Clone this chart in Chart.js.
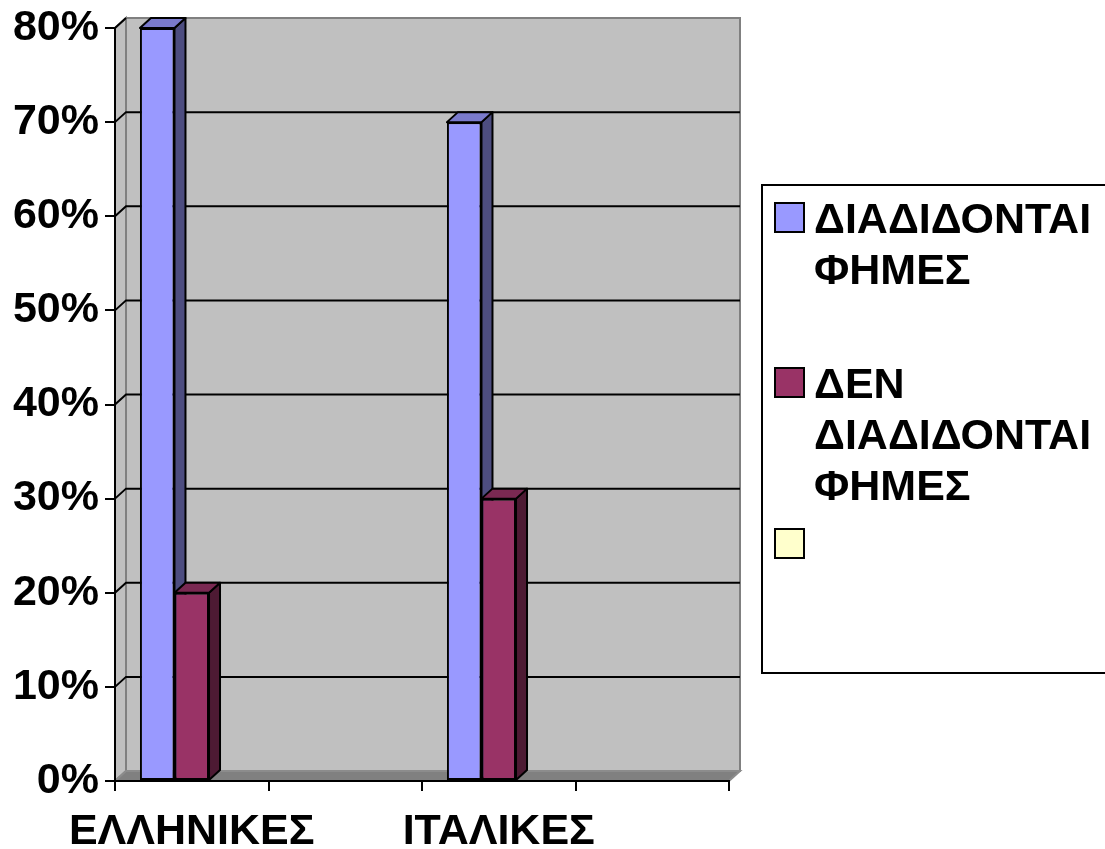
<!DOCTYPE html>
<html>
<head>
<meta charset="utf-8">
<title>ΦΗΜΕΣ</title>
<script src="https://cdn.jsdelivr.net/npm/chart.js@4.4.1/dist/chart.umd.min.js"></script>
<style>
  html, body { margin: 0; padding: 0; background: #fff; }
  #wrap { width: 1105px; height: 849px; overflow: hidden; }
</style>
</head>
<body>
<div id="wrap"><canvas id="rumourChart" width="1105" height="849"></canvas></div>
<script>
// --- DATA ---
const categories = ['ΕΛΛΗΝΙΚΕΣ', '', 'ΙΤΑΛΙΚΕΣ', ''];
const seriesNames = ['ΔΙΑΔΙΔΟΝΤΑΙ ΦΗΜΕΣ', 'ΔΕΝ ΔΙΑΔΙΔΟΝΤΑΙ ΦΗΜΕΣ', ''];
const spreadValues = [80, null, 70, null];
const notSpreadValues = [20, null, 30, null];
const emptyValues = [null, null, null, null];
const yTicks = [0, 10, 20, 30, 40, 50, 60, 70, 80];

// --- STYLE ---
const FONT = '"Liberation Sans", Arial, sans-serif';
const DEPTH = { dx: 11, dy: -10 };
const faceColors = [
  { front: '#9999FF', side: '#4D4D80', top: '#7A7ACC' },
  { front: '#993366', side: '#4D1A33', top: '#7A2952' },
  { front: '#FFFFCC', side: '#80806A', top: '#CCCCA3' }
];

// back wall, side wall, floor and the gridlines drawn on them
const wallPlugin = {
  id: 'wall3d',
  beforeDraw(chart) {
    const { ctx, chartArea: a, scales } = chart;
    const { dx, dy } = DEPTH;
    ctx.save();
    ctx.lineWidth = 2;
    ctx.strokeStyle = '#808080';
    ctx.fillStyle = '#C0C0C0';
    // back wall
    ctx.fillRect(a.left + dx, a.top + dy, a.right - a.left, a.bottom - a.top);
    ctx.strokeRect(a.left + dx, a.top + dy, a.right - a.left, a.bottom - a.top);
    // left wall
    ctx.beginPath();
    ctx.moveTo(a.left, a.top);
    ctx.lineTo(a.left + dx, a.top + dy);
    ctx.lineTo(a.left + dx, a.bottom + dy);
    ctx.lineTo(a.left, a.bottom);
    ctx.closePath();
    ctx.fill();
    ctx.stroke();
    // floor
    ctx.fillStyle = '#808080';
    ctx.beginPath();
    ctx.moveTo(a.left, a.bottom);
    ctx.lineTo(a.left + dx, a.bottom + dy);
    ctx.lineTo(a.right + dx, a.bottom + dy);
    ctx.lineTo(a.right, a.bottom);
    ctx.closePath();
    ctx.fill();
    ctx.strokeStyle = '#8C8C8C';
    ctx.stroke();
    // gridlines
    ctx.strokeStyle = '#000';
    ctx.lineWidth = 2;
    yTicks.forEach(v => {
      if (v === 0) return;
      const y = scales.y.getPixelForValue(v);
      ctx.beginPath();
      ctx.moveTo(a.left, y);
      ctx.lineTo(a.left + dx, y + dy);
      if (y > a.top + 1) ctx.lineTo(a.right + dx, y + dy);
      ctx.stroke();
    });
    ctx.restore();
  },
  beforeDatasetsDraw(chart) {
    const { ctx } = chart;
    const { dx, dy } = DEPTH;
    ctx.save();
    ctx.lineWidth = 2;
    ctx.strokeStyle = '#000';
    ctx.lineJoin = 'round';
    chart.data.datasets.forEach((ds, di) => {
      const meta = chart.getDatasetMeta(di);
      meta.data.forEach((bar, i) => {
        if (ds.data[i] == null) return;
        const { x, y, base, width } = bar.getProps(['x', 'y', 'base', 'width'], true);
        const l = x - width / 2, r = x + width / 2;
        // side face
        ctx.fillStyle = faceColors[di].side;
        ctx.beginPath();
        ctx.moveTo(r, y);
        ctx.lineTo(r + dx, y + dy);
        ctx.lineTo(r + dx, base + dy);
        ctx.lineTo(r, base);
        ctx.closePath();
        ctx.fill();
        ctx.stroke();
        // top face
        ctx.fillStyle = faceColors[di].top;
        ctx.beginPath();
        ctx.moveTo(l, y);
        ctx.lineTo(l + dx, y + dy);
        ctx.lineTo(r + dx, y + dy);
        ctx.lineTo(r, y);
        ctx.closePath();
        ctx.fill();
        ctx.stroke();
      });
    });
    ctx.restore();
  }
};

// boxed legend on the right, one word per line like the original
const boxLegend = {
  id: 'boxLegend',
  afterDraw(chart) {
    const { ctx } = chart;
    const box = { x: 762, y: 185, w: 360, h: 488 };
    const itemTops = [203, 368, 529];
    const lineH = 51;
    ctx.save();
    ctx.fillStyle = '#fff';
    ctx.fillRect(box.x, box.y, box.w, box.h);
    ctx.lineWidth = 2;
    ctx.strokeStyle = '#000';
    ctx.strokeRect(box.x, box.y, box.w, box.h);
    ctx.font = 'bold 43px ' + FONT;
    ctx.textBaseline = 'alphabetic';
    chart.data.datasets.forEach((ds, di) => {
      const top = itemTops[di];
      ctx.fillStyle = ds.backgroundColor;
      ctx.fillRect(775, top, 29, 29);
      ctx.strokeRect(775, top, 29, 29);
      // wrap words
      const words = (ds.label || '').split(' ').filter(Boolean);
      const lines = [];
      let cur = '';
      words.forEach(w => {
        const t = cur ? cur + ' ' + w : w;
        if (cur && ctx.measureText(t).width > 290) { lines.push(cur); cur = w; }
        else cur = t;
      });
      if (cur) lines.push(cur);
      ctx.fillStyle = '#000';
      lines.forEach((ln, k) => ctx.fillText(ln, 814, top + 30 + k * lineH));
    });
    ctx.restore();
  }
};

Chart.defaults.font.family = FONT;
Chart.defaults.font.size = 43;
Chart.defaults.font.weight = 'bold';
Chart.defaults.color = '#000';

new Chart(document.getElementById('rumourChart').getContext('2d'), {
  type: 'bar',
  data: {
    labels: categories,
    datasets: [
      { label: seriesNames[0], data: spreadValues, backgroundColor: faceColors[0].front },
      { label: seriesNames[1], data: notSpreadValues, backgroundColor: faceColors[1].front },
      { label: seriesNames[2], data: emptyValues, backgroundColor: faceColors[2].front }
    ]
  },
  options: {
    responsive: false,
    animation: false,
    devicePixelRatio: 1,
    layout: { padding: { left: 0, top: 28, right: 376, bottom: 0 } },
    datasets: {
      bar: {
        borderColor: '#000',
        borderWidth: 2,
        borderSkipped: false,
        categoryPercentage: 0.675,
        barPercentage: 1.0
      }
    },
    scales: {
      x: {
        grid: { drawOnChartArea: false, drawTicks: true, tickLength: 10, color: '#000', lineWidth: 2 },
        border: { display: true, color: '#000', width: 2 },
        ticks: { autoSkip: false, maxRotation: 0, minRotation: 0, padding: 15 },
        afterFit(scale) { scale.height = 68; }
      },
      y: {
        min: 0,
        max: 80,
        grid: { drawOnChartArea: false, drawTicks: true, tickLength: 10, color: '#000', lineWidth: 2 },
        border: { display: true, color: '#000', width: 2 },
        ticks: { stepSize: 10, padding: 6, font: { lineHeight: 1.0 }, callback: v => v + '%' },
        afterFit(scale) { scale.width = 115; }
      }
    },
    plugins: {
      legend: { display: false },
      tooltip: { enabled: false }
    }
  },
  plugins: [wallPlugin, boxLegend]
});
</script>
</body>
</html>
